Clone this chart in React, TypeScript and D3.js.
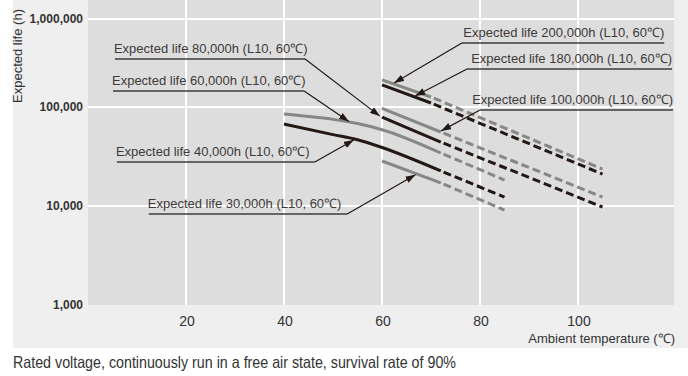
import React from "react";
import * as d3 from "d3";

const W = 688;
const H = 376;

// Axis ticks
const xTicks = [20, 40, 60, 80, 100];
const yTicks = [1000, 10000, 100000, 1000000];
const yTickLabels = ["1,000", "10,000", "100,000", "1,000,000"];

// Series (temperature °C, expected life h)
const t200 = [60, 70, 105];
const v200 = [203000, 130000, 23600];
const t180 = [60, 70, 105];
const v180 = [178000, 111000, 21000];
const t100 = [60, 72, 105];
const v100 = [97000, 55900, 12300];
const t80 = [60, 72, 105];
const v80 = [79200, 44300, 9770];
const t60 = [40, 45, 50, 55, 60, 72, 85];
const v60 = [85000, 80000, 75000, 68000, 59000, 34300, 18300];
const t40 = [40, 50, 55, 60, 72, 85];
const v40 = [67300, 52600, 46700, 39000, 22600, 12300];
const t30 = [60, 72, 85];
const v30 = [28500, 17100, 9100];

const seriesTemps = [t200, t180, t100, t80, t60, t40, t30];
const seriesValues = [v200, v180, v100, v80, v60, v40, v30];
// temperature where the measured (solid) part ends and the estimate (dashed) begins
const solidEnd = [70, 70, 72, 72, 72, 72, 72];

// Annotations
const annText = [
  "Expected life 200,000h (L10, 60\u2103)",
  "Expected life 180,000h (L10, 60\u2103)",
  "Expected life 100,000h (L10, 60\u2103)",
  "Expected life 80,000h (L10, 60\u2103)",
  "Expected life 60,000h (L10, 60\u2103)",
  "Expected life 40,000h (L10, 60\u2103)",
  "Expected life 30,000h (L10, 60\u2103)",
];
const annTipT = [62.2, 66.5, 71.8, 59.8, 53.5, 54.5, 67.1];
const annElbowT = [76.3, 77.35, 80, 44.3, 44.1, 46.3, 52.9];
const annElbowV = [533000, 270000, 93300, 351000, 152000, 27800, 8300];
const annEndT = [117.6, 119.2, 119.4, 5.5, 5.1, 5.9, 12.4];

const GRAY = "#878787";
const BLACK = "#231815";
const TEXT = "#3e3a39";
const FONT = "'Liberation Sans', Arial, Helvetica, sans-serif";

export default function App() {
  const x = d3.scaleLinear().domain([0, 120]).range([88, 676]);
  const y = d3
    .scaleLog()
    .domain([1000, 10000, 100000, 1000000])
    .range([305, 206, 107, 19]);

  const toneOf = (i: number) => (i % 2 === 0 ? GRAY : BLACK);

  const line = d3
    .line<[number, number]>()
    .x((d) => x(d[0]))
    .y((d) => y(d[1]))
    .curve(d3.curveMonotoneX);
  const lineLin = d3
    .line<[number, number]>()
    .x((d) => x(d[0]))
    .y((d) => y(d[1]));

  const pxAt = (si: number, t: number): [number, number] => {
    const ts = seriesTemps[si];
    const vs = seriesValues[si];
    for (let k = 0; k < ts.length - 1; k++) {
      if (t >= ts[k] && t <= ts[k + 1]) {
        const f = (t - ts[k]) / (ts[k + 1] - ts[k]);
        const y0 = y(vs[k]);
        const y1 = y(vs[k + 1]);
        return [x(t), y0 + (y1 - y0) * f];
      }
    }
    return [x(t), y(vs[0])];
  };

  const plotLeft = x(0);
  const plotRight = x(120) - 2;
  const plotBottom = y(1000);

  return (
    <svg
      width={W}
      height={H}
      style={{ position: "absolute", left: 0, top: 0, display: "block" }}
      fontFamily={FONT}
    >
      <defs>
        <marker
          id="arr"
          viewBox="0 0 10 10"
          refX="10"
          refY="5"
          markerWidth="10"
          markerHeight="7"
          markerUnits="userSpaceOnUse"
          preserveAspectRatio="none"
          orient="auto"
        >
          <path d="M0,0 L10,5 L0,10 z" fill={BLACK} />
        </marker>
      </defs>
      <rect x={0} y={0} width={W} height={H} fill="#ffffff" />
      <rect x={13} y={0} width={W - 13} height={348} fill="#efeff0" />
      <rect
        x={plotLeft}
        y={0}
        width={plotRight - plotLeft}
        height={plotBottom}
        fill="#dddddd"
      />
      {/* grid */}
      {xTicks.map((t) => (
        <line
          key={"gx" + t}
          x1={x(t)}
          x2={x(t)}
          y1={0}
          y2={plotBottom}
          stroke="#ffffff"
          strokeWidth={2}
        />
      ))}
      {yTicks.slice(1).map((t) => (
        <line
          key={"gy" + t}
          x1={plotLeft}
          x2={plotRight}
          y1={y(t)}
          y2={y(t)}
          stroke="#ffffff"
          strokeWidth={2}
        />
      ))}
      {/* series */}
      {seriesTemps.map((ts, i) => {
        const pts: [number, number][] = ts.map((t, k) => [t, seriesValues[i][k]]);
        const solid = pts.filter((p) => p[0] <= solidEnd[i]);
        const dashed = pts.filter((p) => p[0] >= solidEnd[i]);
        return (
          <g key={"s" + i}>
            <path
              d={line(solid) || ""}
              fill="none"
              stroke={toneOf(i)}
              strokeWidth={3}
            />
            <path
              d={lineLin(dashed) || ""}
              fill="none"
              stroke={toneOf(i)}
              strokeWidth={3}
              strokeDasharray="8 4"
              strokeDashoffset={-3}
            />
          </g>
        );
      })}
      {/* annotations */}
      {annText.map((txt, i) => {
        const [tx, ty0] = pxAt(i, annTipT[i]);
        const ex = x(annElbowT[i]);
        const ey = y(annElbowV[i]);
        const fx = x(annEndT[i]);
        const dx = tx - ex;
        const dy = ty0 - ey;
        const len = Math.sqrt(dx * dx + dy * dy);
        const sh = 1.5;
        const tipX = tx - (dx / len) * sh;
        const tipY = ty0 - (dy / len) * sh;
        const rightSide = fx > ex;
        return (
          <g key={"a" + i}>
            <line
              x1={Math.min(ex, fx)}
              x2={Math.max(ex, fx)}
              y1={ey}
              y2={ey}
              stroke={TEXT}
              strokeWidth={1.5}
            />
            <line
              x1={ex}
              y1={ey}
              x2={tipX}
              y2={tipY}
              stroke={BLACK}
              strokeWidth={1.2}
              markerEnd="url(#arr)"
            />
            <text
              x={rightSide ? fx : fx - 1}
              y={ey - 6}
              textAnchor={rightSide ? "end" : "start"}
              fontSize={13}
              fill={TEXT}
            >
              {txt}
            </text>
          </g>
        );
      })}
      {/* y tick labels */}
      {yTicks.map((t, i) => (
        <text
          key={"yl" + t}
          x={83}
          y={y(t)}
          dy="0.35em"
          textAnchor="end"
          fontSize={12}
          fontWeight="bold"
          fill="#333333"
        >
          {yTickLabels[i]}
        </text>
      ))}
      {/* x tick labels */}
      {xTicks.map((t) => (
        <text
          key={"xl" + t}
          x={x(t) + 1}
          y={326}
          textAnchor="middle"
          fontSize={14}
          fill="#333333"
        >
          {t}
        </text>
      ))}
      <text
        x={675}
        y={343}
        textAnchor="end"
        fontSize={13}
        fill="#333333"
      >
        Ambient temperature (℃)
      </text>
      <text
        transform="translate(22,56) rotate(-90)"
        textAnchor="middle"
        fontSize={13}
        fill="#333333"
      >
        Expected life (h)
      </text>
      <text
        x={13}
        y={368}
        fontSize={16.5}
        fill="#333333"
        textLength={443}
        lengthAdjust="spacingAndGlyphs"
      >
        Rated voltage, continuously run in a free air state, survival rate of 90%
      </text>
    </svg>
  );
}
